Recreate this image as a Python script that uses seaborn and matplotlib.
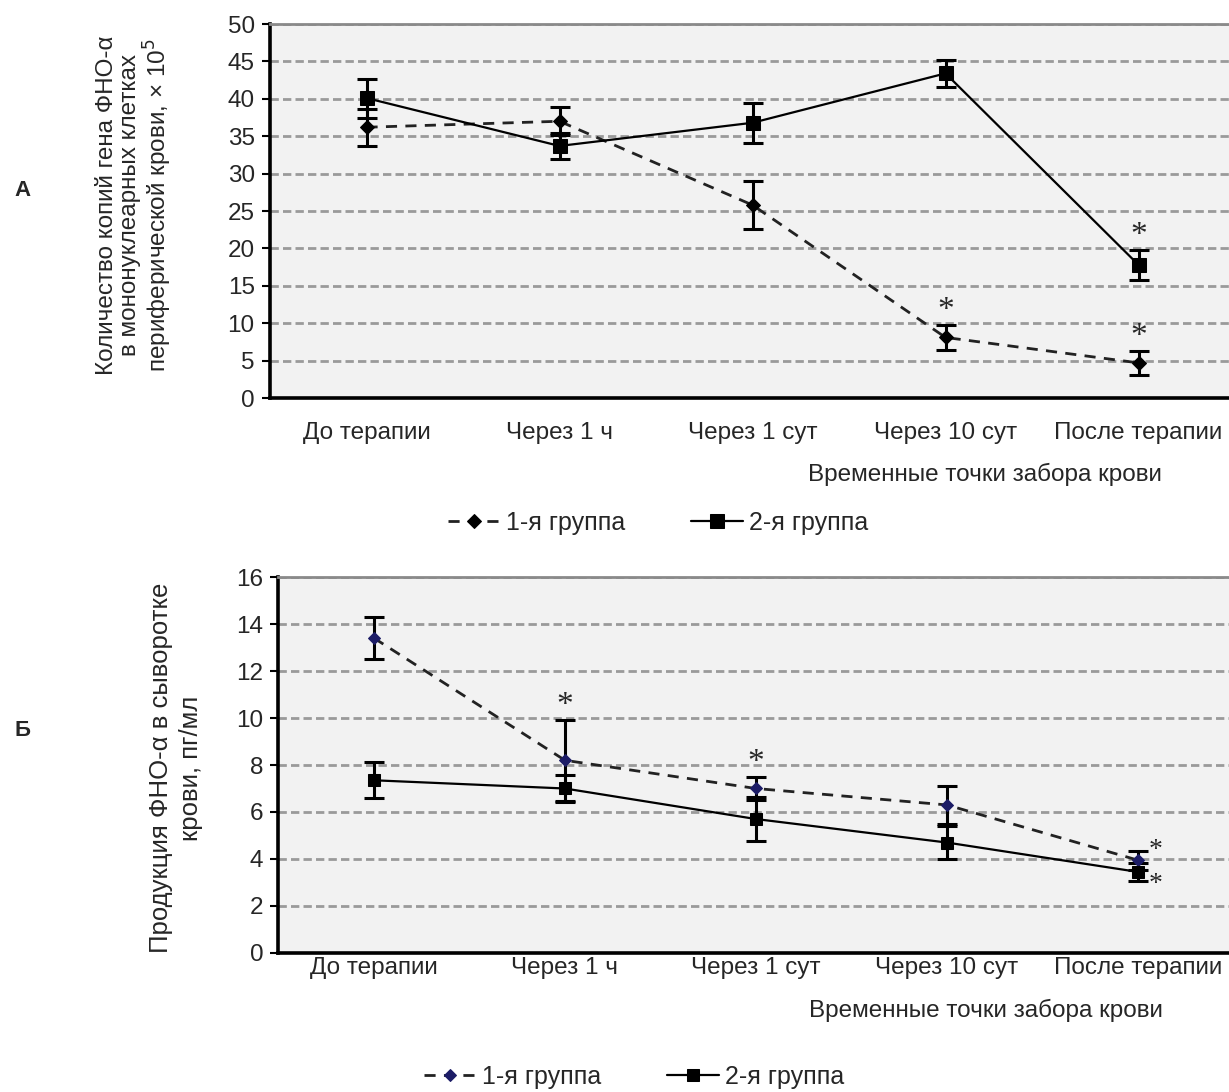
import numpy as np
import pandas as pd
import matplotlib
matplotlib.use("Agg")
import matplotlib.pyplot as plt
import seaborn as sns

# Временные точки
categories = ['До терапии', 'Через 1 ч', 'Через 1 сут', 'Через 10 сут', 'После терапии']
groups = ['1-я группа', '2-я группа']

# A: количество копий гена ФНО-α, x 10^5
a_g1 = [36.2, 37.0, 25.8, 8.1, 4.7]
a_g1_err = [2.5, 1.9, 3.2, 1.7, 1.6]
a_g2 = [40.1, 33.7, 36.8, 43.4, 17.8]
a_g2_err = [2.6, 1.7, 2.7, 1.8, 2.0]
a_star_g1 = [3, 4]
a_star_g2 = [4]

# Б: продукция ФНО-α в сыворотке, пг/мл
b_g1 = [13.4, 8.2, 7.0, 6.3, 3.95]
b_g1_err = [0.9, 1.73, 0.5, 0.8, 0.4]
b_g2 = [7.35, 7.0, 5.7, 4.7, 3.45]
b_g2_err = [0.77, 0.57, 0.95, 0.7, 0.4]
b_star_g1 = [1, 2]
b_star_side = [4]

sns.set_style("white")
plt.rcParams['font.family'] = ['Liberation Sans', 'DejaVu Sans']
FS = 17.5

fig = plt.figure(figsize=(12.29, 10.92), dpi=100)
ax1 = fig.add_axes([0.2197, 0.6355, 0.7852, 0.3425])
ax2 = fig.add_axes([0.2266, 0.1273, 0.777, 0.3443])


def draw_panel(ax, g1, g1_err, g2, g2_err, ymax, ystep, g1_color, ms_d, ms_s, xpad, xlab_y):
    x = np.arange(len(categories))
    df = pd.DataFrame({'x': np.concatenate([x, x]),
                       'y': g1 + g2,
                       'group': [groups[0]] * len(x) + [groups[1]] * len(x)})
    ax.set_facecolor('#f2f2f2')
    ax.errorbar(x, g1, yerr=g1_err, fmt='none', ecolor='black', elinewidth=2.2,
                capsize=7, capthick=2.2, zorder=3)
    ax.errorbar(x, g2, yerr=g2_err, fmt='none', ecolor='black', elinewidth=2.2,
                capsize=7, capthick=2.2, zorder=3)
    sns.lineplot(data=df[df.group == groups[0]], x='x', y='y', ax=ax, color='#222222',
                 linestyle=(0, (4, 3)), lw=2, marker='D', markersize=ms_d,
                 markerfacecolor=g1_color, markeredgecolor=g1_color, label=groups[0], zorder=4)
    sns.lineplot(data=df[df.group == groups[1]], x='x', y='y', ax=ax, color='black',
                 lw=1.6, marker='s', markersize=ms_s, markerfacecolor='black',
                 markeredgecolor='black', label=groups[1], zorder=4)
    ax.set_xlim(-0.5, len(categories) - 0.5)
    ax.set_ylim(0, ymax)
    ax.set_yticks(np.arange(0, ymax + 0.1, ystep))
    ax.set_xticks(x)
    ax.set_xticklabels(categories, fontsize=FS)
    ax.set_xticks(x[:-1] + 0.5, minor=True)
    ax.tick_params(axis='x', which='major', length=0, pad=xpad)
    ax.tick_params(axis='x', which='minor', length=7, width=2, direction='out', color='black')
    ax.tick_params(axis='y', length=6, width=1.5, direction='out', labelsize=FS,
                   color='black', pad=5, left=True)
    ax.yaxis.grid(True, linestyle=(0, (3, 1.5)), color='#9a9a9a', lw=2)
    ax.set_axisbelow(True)
    for s in ['left', 'bottom']:
        ax.spines[s].set_color('black')
        ax.spines[s].set_linewidth(2.6)
    ax.spines['top'].set_color('#8a8a8a')
    ax.spines['top'].set_linewidth(2)
    ax.spines['right'].set_visible(False)
    ax.set_xlabel('')
    ax.set_ylabel('')
    ax.get_legend().remove()
    ax.text(0.741, xlab_y, 'Временные точки забора крови', transform=ax.transAxes,
            ha='center', va='center', fontsize=FS)


draw_panel(ax1, a_g1, a_g1_err, a_g2, a_g2_err, 50, 5, 'black', 7.5, 10, 17, -0.205)
draw_panel(ax2, b_g1, b_g1_err, b_g2, b_g2_err, 16, 2, '#1c1c66', 6, 9, 3, -0.152)

star_kw = dict(textcoords='offset points', ha='center', va='center',
               fontsize=24, family='Liberation Serif')
for i in a_star_g1:
    ax1.annotate('*', (i, a_g1[i] + a_g1_err[i]), xytext=(0, 10), **star_kw)
for i in a_star_g2:
    ax1.annotate('*', (i, a_g2[i] + a_g2_err[i]), xytext=(0, 10), **star_kw)
for i in b_star_g1:
    ax2.annotate('*', (i, b_g1[i] + b_g1_err[i]), xytext=(0, 10), **star_kw)
side_kw = dict(star_kw, fontsize=20)
for i in b_star_side:
    ax2.annotate('*', (i, b_g1[i]), xytext=(13, 7), **side_kw)
    ax2.annotate('*', (i, b_g2[i]), xytext=(13, -9), **side_kw)

# подписи осей Y
fig.text(135 / 1229, 1 - 205 / 1092,
         'Количество копий гена ФНО-α\nв мононуклеарных клетках\nпериферической крови, × 10$^5$',
         rotation=90, ha='center', va='center', fontsize=17.5, linespacing=1.05,
         multialignment='center')
fig.text(176 / 1229, 1 - 768 / 1092,
         'Продукция ФНО-α в сыворотке\nкрови, пг/мл',
         rotation=90, ha='center', va='center', fontsize=18.5, linespacing=1.3,
         multialignment='center')

fig.text(14 / 1229, 1 - 190 / 1092, 'А', fontsize=16, fontweight='bold', ha='left', va='center')
fig.text(14 / 1229, 1 - 730 / 1092, 'Б', fontsize=16, fontweight='bold', ha='left', va='center')

# легенды
for ax, ly, lx in [(ax1, 523, 658), (ax2, 1077, 634)]:
    h, l = ax.get_legend_handles_labels()
    fig.legend(h, l, loc='center', bbox_to_anchor=(lx / 1229, 1 - ly / 1092), ncol=2,
               frameon=False, fontsize=18, handlelength=2.1, columnspacing=2.6,
               handletextpad=0.25)

fig.savefig('out.png', dpi=100)
